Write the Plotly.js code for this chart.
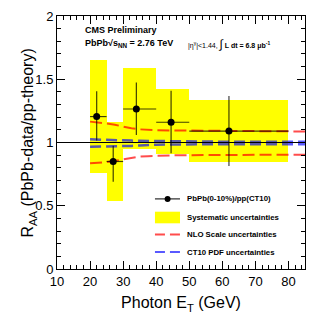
<!DOCTYPE html>
<html>
<head>
<meta charset="utf-8">
<script src="https://cdn.plot.ly/plotly-3.0.1.min.js"></script>
<style>html,body{margin:0;padding:0;background:#fff;}#chart{width:332px;height:319px;}</style>
</head>
<body>
<div id="chart"></div>
<script>
// Data points: PbPb(0-10%)/pp(CT10)
const ptX = [22, 27, 34, 44.5, 62];
const ptY = [1.205, 0.85, 1.265, 1.16, 1.09];
const errUp = [0.2, 0.125, 0.21, 0.25, 0.277];
const errDown = [0.19, 0.16, 0.205, 0.245, 0.276];
// Bins
const binLo = [20, 25, 30, 40, 50];
const binHi = [25, 30, 40, 50, 80];
// Systematic uncertainty boxes
const sysLo = [0.755, 0.54, 0.945, 0.91, 0.845];
const sysHi = [1.655, 1.16, 1.59, 1.42, 1.335];
// NLO scale uncertainties
const nloX = [20, 22.5, 25, 27.5, 30, 32.5, 35, 37.5, 40, 45, 50, 55, 60, 65, 70, 75, 80, 85];
const nloUp = [1.165, 1.16, 1.15, 1.14, 1.125, 1.112, 1.104, 1.1, 1.098, 1.095, 1.094, 1.093, 1.092, 1.091, 1.09, 1.089, 1.088, 1.087];
const nloDown = [0.835, 0.838, 0.845, 0.855, 0.867, 0.878, 0.888, 0.892, 0.895, 0.898, 0.9, 0.901, 0.902, 0.903, 0.903, 0.904, 0.904, 0.904];
// CT10 PDF uncertainties
const pdfUp = [1.025, 1.024, 1.022, 1.02, 1.018, 1.015, 1.013, 1.012, 1.01, 1.008, 1.007, 1.006, 1.005, 1.005, 1.005, 1.005, 1.005, 1.005];
const pdfDown = [0.967, 0.967, 0.968, 0.969, 0.97, 0.973, 0.976, 0.98, 0.983, 0.985, 0.986, 0.986, 0.986, 0.986, 0.986, 0.986, 0.986, 0.986];
const unityLevel = 1;
// Legend labels
const legendLabels = ["PbPb(0-10%)/pp(CT10)", "Systematic uncertainties", "NLO Scale uncertainties", "CT10 PDF uncertainties"];

const redC = 'rgba(255,0,0,0.7)';
const blueC = 'rgba(0,0,255,0.65)';
const FONT = 'Liberation Sans, Arial, Helvetica, sans-serif';

const binMid = binLo.map((l, i) => (l + binHi[i]) / 2);
const binW = binLo.map((l, i) => binHi[i] - l);

const traces = [
  {
    type: 'bar', x: binMid, width: binW, base: sysLo,
    y: sysHi.map((h, i) => h - sysLo[i]),
    marker: {color: '#ffff00', line: {width: 0}},
    showlegend: false, hoverinfo: 'skip'
  },
  {type: 'scatter', mode: 'lines', x: nloX, y: nloUp, line: {color: redC, width: 2, dash: '12px,5px'}, showlegend: false},
  {type: 'scatter', mode: 'lines', x: nloX, y: nloDown, line: {color: redC, width: 2, dash: '12px,5px'}, showlegend: false},
  {type: 'scatter', mode: 'lines', x: nloX, y: pdfUp, line: {color: blueC, width: 2.5, dash: '11px,5px'}, showlegend: false},
  {type: 'scatter', mode: 'lines', x: nloX, y: pdfDown, line: {color: blueC, width: 2.5, dash: '11px,5px'}, showlegend: false},
  {
    type: 'scatter', mode: 'markers', x: ptX, y: ptY,
    marker: {color: '#000', size: 7},
    error_y: {type: 'data', symmetric: false, array: errUp, arrayminus: errDown, color: 'rgba(0,0,0,0.75)', thickness: 1.2, width: 0},
    error_x: {type: 'data', symmetric: false,
      array: ptX.map((x, i) => binHi[i] - x),
      arrayminus: ptX.map((x, i) => x - binLo[i]),
      color: 'rgba(0,0,0,0.75)', thickness: 1.2, width: 0},
    showlegend: false
  }
];

// legend geometry (paper coords)
const lx0 = 0.395, lx1 = 0.496, ltx = 0.516;
const rowY = [0.277, 0.2036, 0.136, 0.067];

const shapes = [
  {type: 'line', xref: 'paper', yref: 'y', x0: 0, x1: 1, y0: unityLevel, y1: unityLevel, line: {color: '#000', width: 1}, layer: 'above'},
  // legend symbols
  {type: 'line', xref: 'paper', yref: 'paper', x0: lx0, x1: lx1, y0: rowY[0], y1: rowY[0], line: {color: '#000', width: 1}},
  {type: 'circle', xref: 'paper', yref: 'paper', x0: 0.446 - 0.012, x1: 0.446 + 0.012, y0: rowY[0] - 0.0118, y1: rowY[0] + 0.0118, fillcolor: '#000', line: {width: 0}},
  {type: 'rect', xref: 'paper', yref: 'paper', x0: lx0, x1: lx1, y0: 0.1806, y1: 0.2265, fillcolor: '#ffff00', line: {width: 0}},
  {type: 'line', xref: 'paper', yref: 'paper', x0: lx0, x1: lx1, y0: rowY[2], y1: rowY[2], line: {color: redC, width: 2, dash: '10px,5px'}},
  {type: 'line', xref: 'paper', yref: 'paper', x0: lx0, x1: lx1, y0: rowY[3], y1: rowY[3], line: {color: blueC, width: 2, dash: '10px,5px'}}
];

const annotations = [
  {xref: 'paper', yref: 'paper', x: -0.113, y: 0.5, xanchor: 'center', yanchor: 'middle', textangle: -90, showarrow: false,
   text: 'R<sub>AA</sub> (PbPb-data/pp-theory)', font: {family: FONT, size: 16, color: '#000'}},
  {xref: 'paper', yref: 'paper', x: 0.104, y: 0.945, xanchor: 'left', yanchor: 'middle', showarrow: false,
   text: '<b>CMS Preliminary</b>', font: {family: FONT, size: 9, color: '#000'}},
  {xref: 'paper', yref: 'paper', x: 0.104, y: 0.891, xanchor: 'left', yanchor: 'middle', showarrow: false,
   text: '<b>PbPb√s<sub>NN</sub> = 2.76 TeV</b>', font: {family: FONT, size: 9, color: '#000'}},
  {xref: 'paper', yref: 'paper', x: 0.52, y: 0.891, xanchor: 'left', yanchor: 'middle', showarrow: false,
   text: '|η<sup>γ</sup>|<1.44, <span style="font-size:12px">∫</span> <b>L dt = 6.8 μb<sup>-1</sup></b>', font: {family: FONT, size: 7, color: '#000'}}
];
legendLabels.forEach((t, i) => annotations.push({
  xref: 'paper', yref: 'paper', x: ltx, y: rowY[i], xanchor: 'left', yanchor: 'middle', showarrow: false,
  text: '<b>' + t + '</b>', font: {family: FONT, size: 7.8, color: '#000'}
}));

const axisCommon = {
  showgrid: false, zeroline: false, showline: true, linecolor: '#000', linewidth: 1,
  ticks: 'inside', ticklen: 8, tickcolor: '#000', tickwidth: 1, mirror: 'ticks',
  tickfont: {family: FONT, size: 13, color: '#000'}
};

const layout = {
  width: 332, height: 319,
  margin: {l: 57, r: 27, t: 16, b: 50, pad: 0},
  paper_bgcolor: '#fff', plot_bgcolor: '#fff',
  barmode: 'overlay', bargap: 0,
  showlegend: false,
  xaxis: Object.assign({}, axisCommon, {
    range: [10, 85], dtick: 10, tick0: 10,
    minor: {dtick: 2, ticklen: 4, ticks: 'inside', tickcolor: '#000'},
    title: {text: 'Photon E<sub>T</sub> (GeV)', font: {family: FONT, size: 16, color: '#000'}, standoff: 9}
  }),
  yaxis: Object.assign({}, axisCommon, {
    range: [0, 2], dtick: 0.5, tick0: 0,
    minor: {dtick: 0.1, ticklen: 4, ticks: 'inside', tickcolor: '#000'}
  }),
  shapes: shapes,
  annotations: annotations
};

Plotly.newPlot('chart', traces, layout, {staticPlot: true, displayModeBar: false});
</script>
</body>
</html>
